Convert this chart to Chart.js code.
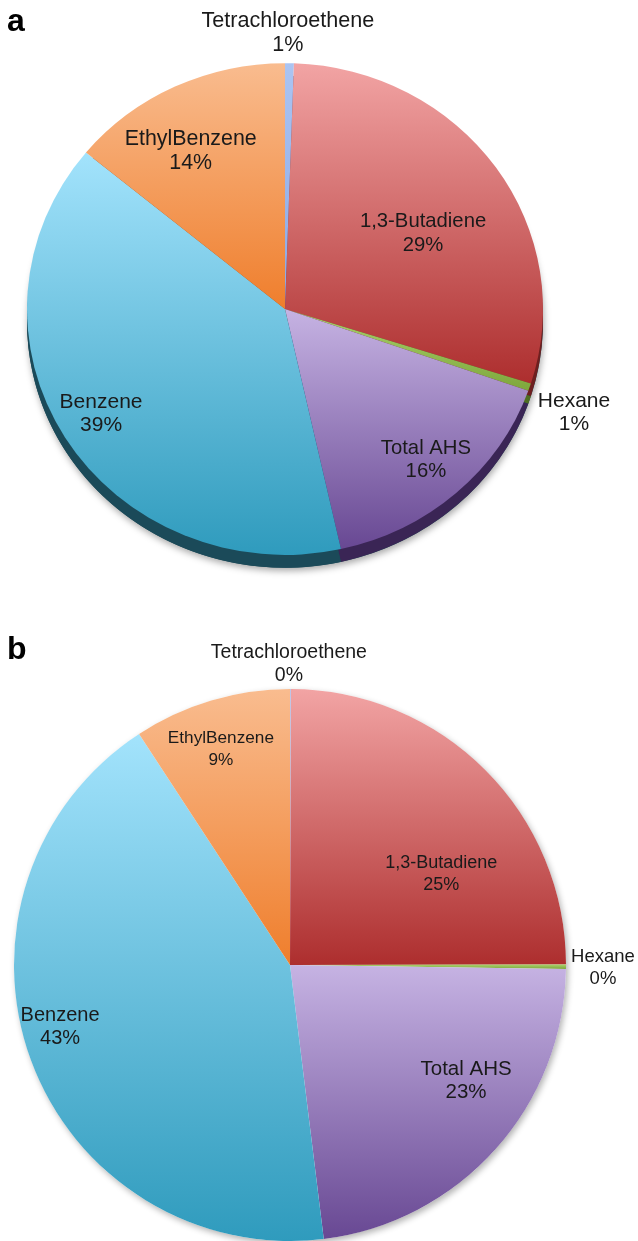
<!DOCTYPE html>
<html><head><meta charset="utf-8">
<script src="https://cdn.jsdelivr.net/npm/chart.js@4.4.0/dist/chart.umd.min.js"></script>
<style>
html,body{margin:0;padding:0;background:#fff;}
body{width:638px;height:1241px;position:relative;overflow:hidden;font-family:"Liberation Sans",Arial,sans-serif;}
.wrap{position:absolute;left:0;width:638px;}
#wa{top:0;height:620px}
#wb{top:620px;height:621px}
canvas{display:block}
.panel{position:absolute;font-weight:bold;font-size:32px;line-height:32px;color:#000;}
</style></head><body>
<div class="wrap" id="wa"><canvas id="ca" width="638" height="620"></canvas></div>
<div class="wrap" id="wb"><canvas id="cb" width="638" height="621"></canvas></div>
<div class="panel" style="left:7px;top:4px">a</div>
<div class="panel" style="left:7px;top:632px">b</div>
<script>
// ---- data ----
const categories = ["Tetrachloroethene", "1,3-Butadiene", "Hexane", "Total AHS", "Benzene", "EthylBenzene"];
const valuesA = [0.55, 29.3, 0.5, 16.1, 39.4, 14.0];
const valuesB = [0.05, 24.9, 0.25, 22.8, 42.7, 9.2];

// ---- styles ----
const gradStops = [
  ["#abc4f2", "#8aa8e6"],
  ["#f2a4a4", "#ad2e2e"],
  ["#aad36c", "#7ea63c"],
  ["#c6b3e3", "#684893"],
  ["#a3e3fc", "#2f9bbd"],
  ["#f9bc8f", "#ef7e2c"]
];
const rimColors = ["#5a78b0", "#6e1f1f", "#4f6e22", "#3a2555", "#1b4a59", "#9a4a14"];
// label placement: radial fraction of radius, angular shift (deg) from slice middle, font size
const labelDistA = [1.07, 0.61, 1.19, 0.80, 0.82, 0.713];
const labelShiftA = [-0.4, 6.5, 1.2, -1.5, 1.9, -5.6];
const labelSizeA = [21.6, 20.3, 21, 20.3, 21, 21.4];
const labelDistB = [1.09, 0.64, 1.134, 0.764, 0.863, 0.82];
const labelShiftB = [-0.3, 13.9, 0.2, -8.5, 5.0, -1.2];
const labelSizeB = [19.5, 18, 18.5, 20.5, 20, 17.2];

function sliceGradient(stops){
  return (c)=>{
    const chart=c.chart, area=chart.chartArea, i=c.dataIndex;
    if(!area) return stops[i][0];
    const data=c.dataset.data; const total=data.reduce((s,v)=>s+v,0);
    let cum=0; for(let k=0;k<i;k++) cum+=data[k];
    const a0=-Math.PI/2 + cum/total*2*Math.PI, a1=a0+data[i]/total*2*Math.PI;
    const cx=(area.left+area.right)/2, cy=(area.top+area.bottom)/2, r=Math.min(area.width,area.height)/2;
    const ys=[cy, cy+r*Math.sin(a0), cy+r*Math.sin(a1)];
    const inRange=(t)=>{ for(let k=-1;k<=2;k++){const tt=t+2*Math.PI*k; if(tt>=a0&&tt<=a1) return true;} return false; };
    if(inRange(-Math.PI/2)) ys.push(cy-r);
    if(inRange(Math.PI/2)) ys.push(cy+r);
    const y0=Math.min(...ys), y1=Math.max(...ys);
    const g=chart.ctx.createLinearGradient(0,y0,0,Math.max(y1,y0+1));
    g.addColorStop(0,stops[i][0]); g.addColorStop(1,stops[i][1]);
    return g;
  };
}

const depthPlugin = {
  id:'depth',
  beforeDatasetsDraw(chart, args, o){
    const ctx=chart.ctx, meta=chart.getDatasetMeta(0);
    const a=meta.data[0]; const cx=a.x, cy=a.y, R=a.outerRadius;
    ctx.save();
    ctx.translate(cx,cy); ctx.scale(1,o.squash); ctx.translate(-cx,-cy);
    ctx.save();
    ctx.shadowColor=o.shadowColor; ctx.shadowBlur=o.shadowBlur;
    ctx.shadowOffsetX=o.shadowOffsetX; ctx.shadowOffsetY=o.shadowOffsetY;
    ctx.beginPath(); ctx.arc(cx, cy+o.depth, R, 0, Math.PI*2); ctx.fillStyle=o.depth>0?'#1b4a59':'#ffffff'; ctx.fill();
    ctx.restore();
    if(o.depth>0){
      meta.data.forEach((arc,i)=>{
        ctx.beginPath(); ctx.moveTo(arc.x, arc.y+o.depth);
        ctx.arc(arc.x, arc.y+o.depth, arc.outerRadius, arc.startAngle, arc.endAngle);
        ctx.closePath(); ctx.fillStyle=o.rim[i]; ctx.fill();
      });
    }
  },
  afterDatasetsDraw(chart){ chart.ctx.restore(); }
};

const labelPlugin = {
  id:'sliceLabels',
  afterDraw(chart, args, o){
    const ctx=chart.ctx, meta=chart.getDatasetMeta(0);
    const data=chart.data.datasets[0].data; const total=data.reduce((s,v)=>s+v,0);
    ctx.save();
    ctx.fillStyle='#1a1a1a'; ctx.textAlign='center'; ctx.textBaseline='middle';
    meta.data.forEach((arc,i)=>{
      ctx.font=o.size[i]+'px "Liberation Sans", Arial, sans-serif';
      const mid=(arc.startAngle+arc.endAngle)/2 + o.shift[i]*Math.PI/180;
      const d=o.dist[i]*arc.outerRadius;
      const x=arc.x+d*Math.cos(mid), y=arc.y+d*Math.sin(mid);
      const pct=Math.round(data[i]/total*100)+'%';
      ctx.fillText(chart.data.labels[i], x, y-o.lh/2);
      ctx.fillText(pct, x, y+o.lh/2);
    });
    ctx.restore();
  }
};

function makePie(id, values, padding, depthOpts, labelOpts){
  return new Chart(document.getElementById(id), {
    type:'pie',
    data:{labels:categories, datasets:[{data:values, backgroundColor:sliceGradient(gradStops), borderWidth:0, hoverOffset:0}]},
    options:{
      responsive:false, animation:false, events:[],
      layout:{padding:padding},
      plugins:{legend:{display:false}, tooltip:{enabled:false}, title:{display:false},
        depth:depthOpts, sliceLabels:labelOpts}
    },
    plugins:[depthPlugin, labelPlugin]
  });
}

makePie('ca', valuesA, {left:27,right:95,top:51,bottom:53},
  {squash:0.953, depth:13.5, rim:rimColors, shadowColor:'rgba(0,0,0,0.35)', shadowBlur:7, shadowOffsetX:1, shadowOffsetY:3},
  {size:labelSizeA, lh:23.5, dist:labelDistA, shift:labelShiftA});
makePie('cb', valuesB, {left:14,right:72,top:69,bottom:0},
  {squash:1, depth:0, rim:rimColors, shadowColor:'rgba(0,0,0,0.3)', shadowBlur:6, shadowOffsetX:2, shadowOffsetY:3},
  {size:labelSizeB, lh:22.5, dist:labelDistB, shift:labelShiftB});
</script>
</body></html>
